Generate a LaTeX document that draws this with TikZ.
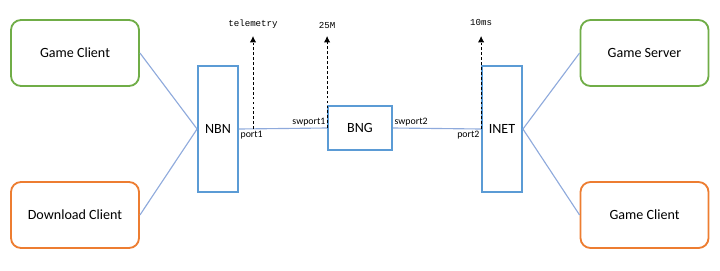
\documentclass[tikz,border=0pt]{standalone}
\usepackage{fontspec}
\setmainfont{Carlito}
\setmonofont{Liberation Mono}
\usetikzlibrary{arrows.meta}

\definecolor{clientgreen}{RGB}{112,173,71}
\definecolor{clientorange}{RGB}{237,125,49}
\definecolor{netblue}{RGB}{91,155,213}
\definecolor{linkblue}{RGB}{143,170,220}

\tikzset{
    host/.style={draw, rounded corners=0.25cm, line width=1.3pt, fill=white,
        minimum width=3.2cm, minimum height=1.65cm, font=\fontsize{10}{12}\selectfont},
    netbox/.style={draw=netblue, line width=1.3pt, fill=white, font=\fontsize{10}{12}\selectfont},
    link/.style={draw=linkblue, line width=0.8pt},
    probe/.style={dashed, dash pattern=on 2pt off 1.5pt, line width=0.6pt,
        -{Latex[length=1.6mm, width=1.6mm]}},
    portlabel/.style={font=\fontsize{7}{8}\selectfont, inner sep=1pt},
    probelabel/.style={font=\ttfamily\fontsize{6.5}{8}\selectfont, inner sep=1pt}
}

\begin{document}
\begin{tikzpicture}[x=0.025cm, y=-0.025cm]
    \useasboundingbox (0, 0) rectangle (720, 270);

    % end hosts
    \node[host, draw=clientgreen] (gameclient) at (75, 53) {Game Client};
    \node[host, draw=clientorange] (download) at (75, 215) {Download Client};
    \node[host, draw=clientgreen] (gameserver) at (644.5, 53) {Game Server};
    \node[host, draw=clientorange] (remoteclient) at (644.5, 215) {Game Client};

    % network boxes
    \node[netbox, minimum width=1cm, minimum height=3.15cm] (nbn) at (218, 129) {NBN};
    \node[netbox, minimum width=1.6cm, minimum height=1.1cm] (bng) at (360, 128) {BNG};
    \node[netbox, minimum width=1cm, minimum height=3.15cm] (inet) at (502, 129) {INET};

    % links
    \draw[link] (gameclient.east) -- (nbn.west);
    \draw[link] (download.east) -- (nbn.west);
    \draw[link] (nbn.east) -- (bng.west);
    \draw[link] (bng.east) -- (inet.west);
    \draw[link] (inet.east) -- (gameserver.west);
    \draw[link] (inet.east) -- (remoteclient.west);

    \node[portlabel, anchor=north west] (port1) at (nbn.east) {port1};
    \node[portlabel, anchor=south east] (swport1) at (bng.west) {swport1};
    \node[portlabel, anchor=south west] (swport2) at (bng.east) {swport2};
    \node[portlabel, anchor=north east] (port2) at (inet.west) {port2};

    % measurement taps
    \coordinate (tap) at (253, 129);
    \coordinate (telemetrytop) at (253, 36);
    \draw[probe] (tap) -- (telemetrytop);
    \draw[probe] (bng.west) -- (bng.west |- telemetrytop) coordinate (ratetop);
    \draw[probe] (inet.west) -- (inet.west |- telemetrytop) coordinate (delaytop);
    \node[probelabel, anchor=south] (telemetry) at ([yshift=4pt]telemetrytop) {telemetry};
    \node[probelabel, anchor=south] (rate) at ([yshift=4pt]ratetop) {25M};
    \node[probelabel, anchor=south] (delay) at ([yshift=6pt]delaytop) {10ms};
\end{tikzpicture}
\end{document}
